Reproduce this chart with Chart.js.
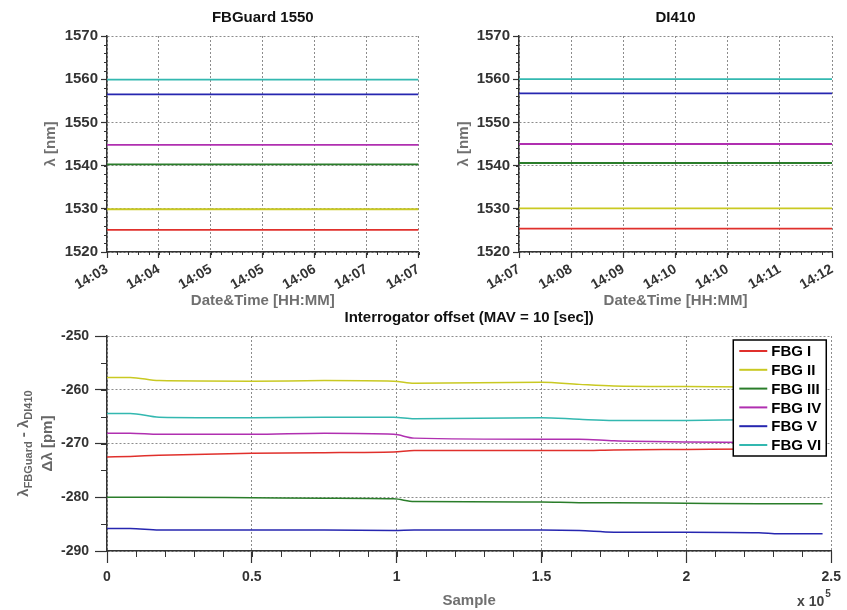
<!DOCTYPE html>
<html>
<head>
<meta charset="utf-8">
<script src="https://cdn.jsdelivr.net/npm/chart.js@4.4.1/dist/chart.umd.min.js"></script>
<style>
  html, body { margin: 0; padding: 0; background: #fff; }
  #page { position: relative; width: 847px; height: 610px; overflow: hidden; }
  canvas { position: absolute; }
</style>
</head>
<body>
<div id="page">
  <canvas id="cLeft" width="430" height="310" style="left:0;top:0"></canvas>
  <canvas id="cRight" width="417" height="310" style="left:430px;top:0"></canvas>
  <canvas id="cBottom" width="847" height="310" style="left:0;top:300px"></canvas>
</div>
<script>
// --- data ---
const fbgNames = ["FBG I", "FBG II", "FBG III", "FBG IV", "FBG V", "FBG VI"];
const fbgColors = ["#e0302c", "#c9c922", "#2a7d2a", "#b02fb0", "#2626b0", "#33b8b0"];

// top plots: x = tick index, labels as printed
const timeIdx = [0, 1, 2, 3, 4, 5, 6];
const fbguardTimes = ["14:03", "14:04", "14:05", "14:05", "14:06", "14:07", "14:07"];
const di410Times = ["14:07", "14:08", "14:09", "14:10", "14:10", "14:11", "14:12"];

const fbguardI   = [1525.1, 1525.1, 1525.1, 1525.1, 1525.1, 1525.1, 1525.1];
const fbguardII  = [1529.9, 1529.9, 1529.9, 1529.9, 1529.9, 1529.9, 1529.9];
const fbguardIII = [1540.3, 1540.3, 1540.3, 1540.3, 1540.3, 1540.3, 1540.3];
const fbguardIV  = [1544.8, 1544.8, 1544.8, 1544.8, 1544.8, 1544.8, 1544.8];
const fbguardV   = [1556.5, 1556.5, 1556.5, 1556.5, 1556.5, 1556.5, 1556.5];
const fbguardVI  = [1559.9, 1559.9, 1559.9, 1559.9, 1559.9, 1559.9, 1559.9];

const di410I   = [1525.4, 1525.4, 1525.4, 1525.4, 1525.4, 1525.4, 1525.4];
const di410II  = [1530.1, 1530.1, 1530.1, 1530.1, 1530.1, 1530.1, 1530.1];
const di410III = [1540.6, 1540.6, 1540.6, 1540.6, 1540.6, 1540.6, 1540.6];
const di410IV  = [1545.0, 1545.0, 1545.0, 1545.0, 1545.0, 1545.0, 1545.0];
const di410V   = [1556.7, 1556.7, 1556.7, 1556.7, 1556.7, 1556.7, 1556.7];
const di410VI  = [1560.0, 1560.0, 1560.0, 1560.0, 1560.0, 1560.0, 1560.0];

// bottom plot: offset in pm vs sample number
const samples = [0, 8000, 18000, 50000, 75000, 99000, 106000, 150000, 163000, 175000, 200000, 225000, 232000, 247000];
const offsetI   = [-272.5, -272.4, -272.2, -271.8, -271.7, -271.6, -271.3, -271.3, -271.3, -271.2, -271.1, -271.0, -271.0, -271.0];
const offsetII  = [-257.7, -257.7, -258.3, -258.4, -258.3, -258.4, -258.8, -258.6, -259.0, -259.3, -259.4, -259.5, -259.5, -259.5];
const offsetIII = [-280.0, -280.0, -280.0, -280.1, -280.2, -280.3, -280.8, -280.9, -281.0, -281.0, -281.1, -281.2, -281.2, -281.2];
const offsetIV  = [-268.1, -268.1, -268.3, -268.3, -268.1, -268.3, -269.0, -269.2, -269.2, -269.5, -269.7, -269.8, -269.8, -269.8];
const offsetV   = [-285.8, -285.8, -286.1, -286.1, -286.1, -286.2, -286.1, -286.1, -286.2, -286.5, -286.5, -286.6, -286.8, -286.8];
const offsetVI  = [-264.4, -264.4, -265.1, -265.2, -265.1, -265.1, -265.4, -265.2, -265.5, -265.7, -265.7, -265.6, -265.7, -265.7];

const FONT = "'Liberation Sans', Arial, sans-serif";
const GRID = "#8c8c8c";
const AXIS = "#333";

function series(xs, ys, i, width) {
  return {
    label: fbgNames[i],
    data: xs.map((x, k) => ({ x, y: ys[k] })),
    borderColor: fbgColors[i],
    backgroundColor: fbgColors[i],
    borderWidth: width,
    pointRadius: 0,
    cubicInterpolationMode: "monotone",
    fill: false
  };
}

// small tick marks between the labelled ones
const minorTicks = {
  id: "minorTicks",
  afterDraw(chart, args, opts) {
    const { ctx, chartArea: a, scales } = chart;
    ctx.save();
    ctx.strokeStyle = AXIS;
    ctx.lineWidth = 1;
    ctx.beginPath();
    if (opts.x) {
      const s = scales.x;
      for (let v = s.min; v <= s.max + 1e-6; v += opts.x.step) {
        const px = Math.round(s.getPixelForValue(v)) + 0.5;
        ctx.moveTo(px, a.bottom);
        ctx.lineTo(px, a.bottom + opts.x.len);
      }
    }
    if (opts.y) {
      const s = scales.y;
      for (let v = s.min; v <= s.max + 1e-6; v += opts.y.step) {
        const py = Math.round(s.getPixelForValue(v)) + 0.5;
        ctx.moveTo(a.left, py);
        ctx.lineTo(a.left - opts.y.len, py);
      }
    }
    ctx.stroke();
    ctx.restore();
  }
};

// title centred over the plotting box
const heading = {
  id: "heading",
  afterDraw(chart, args, opts) {
    if (!opts.text) return;
    const { ctx, chartArea: a } = chart;
    ctx.save();
    ctx.font = "bold 15px " + FONT;
    ctx.fillStyle = "#111";
    ctx.textAlign = "center";
    ctx.textBaseline = "middle";
    ctx.fillText(opts.text, (a.left + a.right) / 2, opts.y);
    ctx.restore();
  }
};

// rotated y label with subscripts + legend box + exponent
const offsetDecor = {
  id: "offsetDecor",
  afterDraw(chart) {
    const { ctx, chartArea: a } = chart;
    const cy = (a.top + a.bottom) / 2;

    // y label: λFBGuard - λDI410 / Δλ [pm]
    const parts = [
      { t: "λ", f: "bold 15px " + FONT, dy: 0 },
      { t: "FBGuard", f: "bold 11px " + FONT, dy: 4 },
      { t: " - λ", f: "bold 15px " + FONT, dy: 0 },
      { t: "DI410", f: "bold 11px " + FONT, dy: 4 }
    ];
    ctx.save();
    ctx.fillStyle = "#666";
    ctx.textBaseline = "alphabetic";
    ctx.translate(28, cy);
    ctx.rotate(-Math.PI / 2);
    let total = 0;
    parts.forEach((p) => { ctx.font = p.f; p.w = ctx.measureText(p.t).width; total += p.w; });
    let x = -total / 2;
    parts.forEach((p) => { ctx.font = p.f; ctx.fillText(p.t, x, p.dy); x += p.w; });
    ctx.font = "bold 15px " + FONT;
    ctx.textAlign = "center";
    ctx.fillText("Δλ [pm]", 0, 24);
    ctx.restore();

    // legend
    const lw = 93, lh = 116;
    const lx = a.right - 5 - lw, ly = a.top + 4;
    ctx.save();
    ctx.fillStyle = "#fff";
    ctx.fillRect(lx, ly, lw, lh);
    ctx.strokeStyle = "#000";
    ctx.lineWidth = 1.5;
    ctx.strokeRect(lx, ly, lw, lh);
    ctx.font = "bold 15px " + FONT;
    ctx.textBaseline = "middle";
    ctx.textAlign = "left";
    chart.data.datasets.forEach((ds, i) => {
      const yy = ly + 11 + i * 18.8;
      ctx.strokeStyle = ds.borderColor;
      ctx.lineWidth = 2;
      ctx.beginPath();
      ctx.moveTo(lx + 6, yy);
      ctx.lineTo(lx + 34, yy);
      ctx.stroke();
      ctx.fillStyle = "#000";
      ctx.fillText(ds.label, lx + 38, yy + 1);
    });
    ctx.restore();

    // x 10^5
    ctx.save();
    ctx.fillStyle = "#444";
    ctx.font = "bold 14px " + FONT;
    ctx.textBaseline = "middle";
    ctx.textAlign = "right";
    ctx.fillText("x 10", a.right - 7, 302);
    ctx.font = "bold 10px " + FONT;
    ctx.textAlign = "left";
    ctx.fillText("5", a.right - 6, 294);
    ctx.restore();
  }
};

function gridOpts(tickLen) {
  return { color: GRID, lineWidth: 1, tickLength: tickLen, tickColor: AXIS, tickWidth: 1.2, tickBorderDash: [] };
}
function borderOpts() {
  return { color: AXIS, width: 1.5, dash: [2, 2] };
}

function topChart(el, opts) {
  const sets = opts.values.map((v, i) => series(timeIdx, v, i, 1.8));
  return new Chart(el, {
    type: "line",
    data: { datasets: sets },
    plugins: [minorTicks, heading],
    options: {
      responsive: false,
      animation: false,
      devicePixelRatio: 1,
      layout: { padding: { top: 36, right: opts.padRight, left: 0, bottom: 0 } },
      plugins: {
        legend: { display: false },
        tooltip: { enabled: false },
        heading: { text: opts.title, y: 18 },
        minorTicks: { x: { step: 0.2, len: 3 }, y: { step: 2, len: 3 } }
      },
      scales: {
        x: {
          type: "linear", min: 0, max: 6,
          afterFit: (s) => { s.height = 58; },
          grid: gridOpts(6), border: borderOpts(),
          ticks: {
            stepSize: 1, autoSkip: false, minRotation: 30, maxRotation: 30, padding: 3,
            color: AXIS, font: { family: FONT, size: 14, weight: "bold" },
            callback: (v) => opts.times[v]
          },
          title: {
            display: true, text: "Date&Time [HH:MM]", color: "#707070",
            font: { family: FONT, size: 15, weight: "bold" }, padding: { top: 3, bottom: 0 }
          }
        },
        y: {
          min: 1520, max: 1570,
          afterFit: (s) => { s.width = opts.yWidth; },
          grid: gridOpts(6), border: borderOpts(),
          ticks: {
            stepSize: 10, padding: 3, color: AXIS, font: { family: FONT, size: 15, weight: "bold" },
            callback: (v) => String(v)
          },
          title: {
            display: true, text: "λ [nm]", color: "#707070",
            font: { family: FONT, size: 15, weight: "bold" }, padding: { top: opts.yTitlePad, bottom: 0 }
          }
        }
      }
    }
  });
}

topChart(document.getElementById("cLeft"), {
  title: "FBGuard 1550", times: fbguardTimes, padRight: 11, yWidth: 107, yTitlePad: 42,
  values: [fbguardI, fbguardII, fbguardIII, fbguardIV, fbguardV, fbguardVI]
});
topChart(document.getElementById("cRight"), {
  title: "DI410", times: di410Times, padRight: 15, yWidth: 89, yTitlePad: 25,
  values: [di410I, di410II, di410III, di410IV, di410V, di410VI]
});

const offsetSets = [offsetI, offsetII, offsetIII, offsetIV, offsetV, offsetVI]
  .map((v, i) => series(samples, v, i, 1.5));

new Chart(document.getElementById("cBottom"), {
  type: "line",
  data: { datasets: offsetSets },
  plugins: [minorTicks, heading, offsetDecor],
  options: {
    responsive: false,
    animation: false,
    devicePixelRatio: 1,
    layout: { padding: { top: 36, right: 15, left: 0, bottom: 0 } },
    plugins: {
      legend: { display: false },
      tooltip: { enabled: false },
      heading: { text: "Interrogator offset (MAV = 10 [sec])", y: 18 },
      minorTicks: { x: { step: 10000, len: 6 }, y: { step: 5, len: 6 } }
    },
    scales: {
      x: {
        type: "linear", min: 0, max: 250000,
        afterFit: (s) => { s.height = 59; },
        grid: gridOpts(12), border: borderOpts(),
        ticks: {
          stepSize: 50000, autoSkip: false, maxRotation: 0, padding: 6,
          color: AXIS, font: { family: FONT, size: 14, weight: "bold" },
          callback: (v) => String(v / 100000)
        },
        title: {
          display: true, text: "Sample", color: "#707070",
          font: { family: FONT, size: 15, weight: "bold" }, padding: { top: 6, bottom: 0 }
        }
      },
      y: {
        min: -290, max: -250,
        afterFit: (s) => { s.width = 107; },
        grid: gridOpts(12), border: borderOpts(),
        ticks: {
          stepSize: 10, padding: 6, color: AXIS, font: { family: FONT, size: 14, weight: "bold" },
          callback: (v) => String(v)
        }
      }
    }
  }
});
</script>
</body>
</html>
